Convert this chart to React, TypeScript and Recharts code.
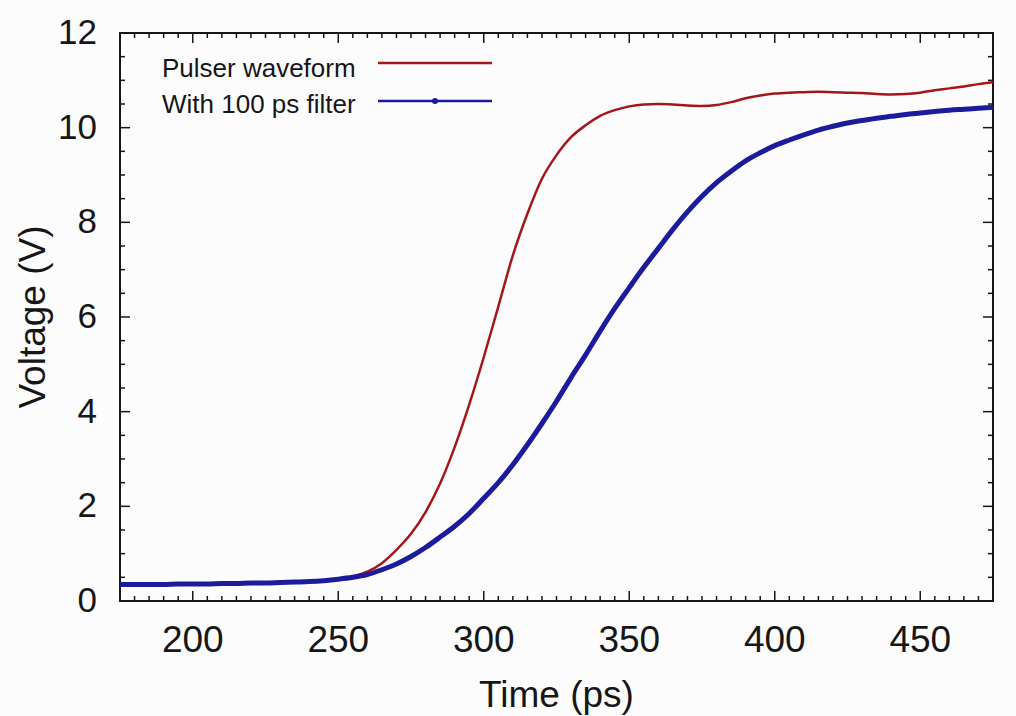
import React from 'react';
import { LineChart, Line, XAxis, YAxis, ReferenceArea, Legend, Label } from 'recharts';

const TIME = [175, 180, 185, 190, 195, 200, 205, 210, 215, 220, 225, 230, 235, 240, 245, 250, 255, 260, 265, 270, 275, 280, 285, 290, 295, 300, 305, 310, 315, 320, 325, 330, 335, 340, 345, 350, 355, 360, 365, 370, 375, 380, 385, 390, 395, 400, 405, 410, 415, 420, 425, 430, 435, 440, 445, 450, 455, 460, 465, 470, 475];

const PULSER = [0.35, 0.35, 0.35, 0.35, 0.36, 0.36, 0.36, 0.37, 0.37, 0.38, 0.38, 0.39, 0.40, 0.41, 0.43, 0.46, 0.52, 0.62, 0.80, 1.08, 1.42, 1.88, 2.48, 3.25, 4.15, 5.15, 6.22, 7.30, 8.18, 8.92, 9.42, 9.80, 10.05, 10.25, 10.37, 10.45, 10.49, 10.50, 10.49, 10.47, 10.46, 10.48, 10.54, 10.62, 10.68, 10.72, 10.74, 10.75, 10.76, 10.75, 10.74, 10.73, 10.71, 10.70, 10.71, 10.74, 10.79, 10.83, 10.87, 10.92, 10.96];

const FILTERED = [0.35, 0.35, 0.35, 0.35, 0.36, 0.36, 0.36, 0.37, 0.37, 0.38, 0.38, 0.39, 0.40, 0.41, 0.43, 0.46, 0.50, 0.56, 0.66, 0.78, 0.94, 1.13, 1.35, 1.58, 1.85, 2.17, 2.50, 2.88, 3.30, 3.75, 4.22, 4.72, 5.20, 5.70, 6.18, 6.62, 7.05, 7.45, 7.85, 8.22, 8.55, 8.84, 9.08, 9.30, 9.47, 9.62, 9.74, 9.85, 9.95, 10.03, 10.10, 10.15, 10.20, 10.24, 10.28, 10.31, 10.34, 10.37, 10.39, 10.41, 10.43];

const X_TICKS = [175, 180, 185, 190, 195, 200, 205, 210, 215, 220, 225, 230, 235, 240, 245, 250, 255, 260, 265, 270, 275, 280, 285, 290, 295, 300, 305, 310, 315, 320, 325, 330, 335, 340, 345, 350, 355, 360, 365, 370, 375, 380, 385, 390, 395, 400, 405, 410, 415, 420, 425, 430, 435, 440, 445, 450, 455, 460, 465, 470, 475];
const X_MAJOR = [200, 250, 300, 350, 400, 450];
const Y_TICKS = [0, 0.5, 1, 1.5, 2, 2.5, 3, 3.5, 4, 4.5, 5, 5.5, 6, 6.5, 7, 7.5, 8, 8.5, 9, 9.5, 10, 10.5, 11, 11.5, 12];
const Y_MAJOR = [0, 2, 4, 6, 8, 10, 12];

const SERIES_NAMES = ['Pulser waveform', 'With 100 ps filter'];
const RED = '#a3171b';
const BLUE = '#1b1b9c';
const INK = '#161616';
const FONT = '"Liberation Sans", Arial, Helvetica, sans-serif';

const W = 1016;
const H = 716;
const MARGIN = { top: 33, right: 23, bottom: 0, left: 0 };
const Y_AXIS_W = 120;
const X_AXIS_H = 115;
const PLOT_W = W - Y_AXIS_W - MARGIN.right;
const PLOT_H = H - MARGIN.top - X_AXIS_H;

const data = TIME.map((t, i) => ({ t, pulser: PULSER[i], filtered: FILTERED[i] }));

const XTick = (props: any) => {
  const { x, y, payload } = props;
  const v = payload.value;
  const major = X_MAJOR.includes(v);
  const len = major ? 10 : 5;
  if (v === 175 || v === 475) return <g />;
  return (
    <g>
      <line x1={x} y1={y} x2={x} y2={y - len} stroke={INK} strokeWidth={1.5} />
      <line x1={x} y1={y - PLOT_H} x2={x} y2={y - PLOT_H + len} stroke={INK} strokeWidth={1.5} />
      {major && (
        <text x={x} y={y + 51} textAnchor="middle" fontSize={37} fill={INK} fontFamily={FONT}>
          {v}
        </text>
      )}
    </g>
  );
};

const YTick = (props: any) => {
  const { x, y, payload } = props;
  const v = payload.value;
  const major = Y_MAJOR.includes(v);
  const len = major ? 10 : 5;
  const showLines = v !== 0 && v !== 12;
  return (
    <g>
      {showLines && <line x1={x} y1={y} x2={x + len} y2={y} stroke={INK} strokeWidth={1.5} />}
      {showLines && <line x1={x + PLOT_W} y1={y} x2={x + PLOT_W - len} y2={y} stroke={INK} strokeWidth={1.5} />}
      {major && (
        <text x={x - 23} y={y + 11} textAnchor="end" fontSize={35} fill={INK} fontFamily={FONT}>
          {v}
        </text>
      )}
    </g>
  );
};

const LegendBox = (props: any) => {
  const payload = props.payload || [];
  const rows = [
    { base: 77, lineY: 63 },
    { base: 113, lineY: 101 },
  ];
  return (
    <svg width={520} height={130} style={{ display: 'block' }}>
      {payload.map((p: any, i: number) => {
        const r = rows[i];
        if (!r) return null;
        return (
          <g key={i}>
            <text x={162} y={r.base} fontSize={26} fill={INK} fontFamily={FONT}>
              {p.value}
            </text>
            <line x1={378} y1={r.lineY} x2={492} y2={r.lineY} stroke={p.color} strokeWidth={2.5} />
            {i === 1 && <circle cx={435} cy={r.lineY} r={3} fill={p.color} />}
          </g>
        );
      })}
    </svg>
  );
};

export default function App() {
  return (
    <div style={{ position: 'absolute', left: 0, top: 0, width: W, height: H, background: '#fcfcfc' }}>
      <LineChart width={W} height={H} data={data} margin={MARGIN}>
        <XAxis
          dataKey="t"
          type="number"
          domain={[175, 475]}
          ticks={X_TICKS}
          interval={0}
          allowDataOverflow
          height={X_AXIS_H}
          axisLine={false}
          tickLine={false}
          tickSize={0}
          tickMargin={0}
          tick={<XTick />}
        >
          <Label
            value="Time (ps)"
            position="insideBottom"
            offset={9}
            fontSize={37}
            fill={INK}
            fontFamily={FONT}
          />
        </XAxis>
        <YAxis
          type="number"
          domain={[0, 12]}
          ticks={Y_TICKS}
          interval={0}
          allowDataOverflow
          width={Y_AXIS_W}
          axisLine={false}
          tickLine={false}
          tickSize={0}
          tickMargin={0}
          tick={<YTick />}
        >
          <Label
            content={(p: any) => {
              const vb = p.viewBox || {};
              const cy = (vb.y || 0) + (vb.height || 0) / 2;
              return (
                <text
                  transform={`translate(45, ${cy}) rotate(-90)`}
                  textAnchor="middle"
                  fontSize={37}
                  fill={INK}
                  fontFamily={FONT}
                >
                  Voltage (V)
                </text>
              );
            }}
          />
        </YAxis>
        <ReferenceArea
          x1={175}
          x2={475}
          y1={0}
          y2={12}
          fill="none"
          fillOpacity={0}
          stroke={INK}
          strokeWidth={2}
          ifOverflow="visible"
        />
        <Legend
          layout="horizontal"
          verticalAlign="middle"
          align="center"
          wrapperStyle={{ left: 0, top: 0, width: 520, height: 130 }}
          content={<LegendBox />}
        />
        <Line
          name={SERIES_NAMES[0]}
          dataKey="pulser"
          stroke={RED}
          strokeWidth={2.5}
          dot={false}
          type="monotone"
          isAnimationActive={false}
        />
        <Line
          name={SERIES_NAMES[1]}
          dataKey="filtered"
          stroke={BLUE}
          strokeWidth={5}
          dot={false}
          type="monotone"
          isAnimationActive={false}
        />
      </LineChart>
    </div>
  );
}
